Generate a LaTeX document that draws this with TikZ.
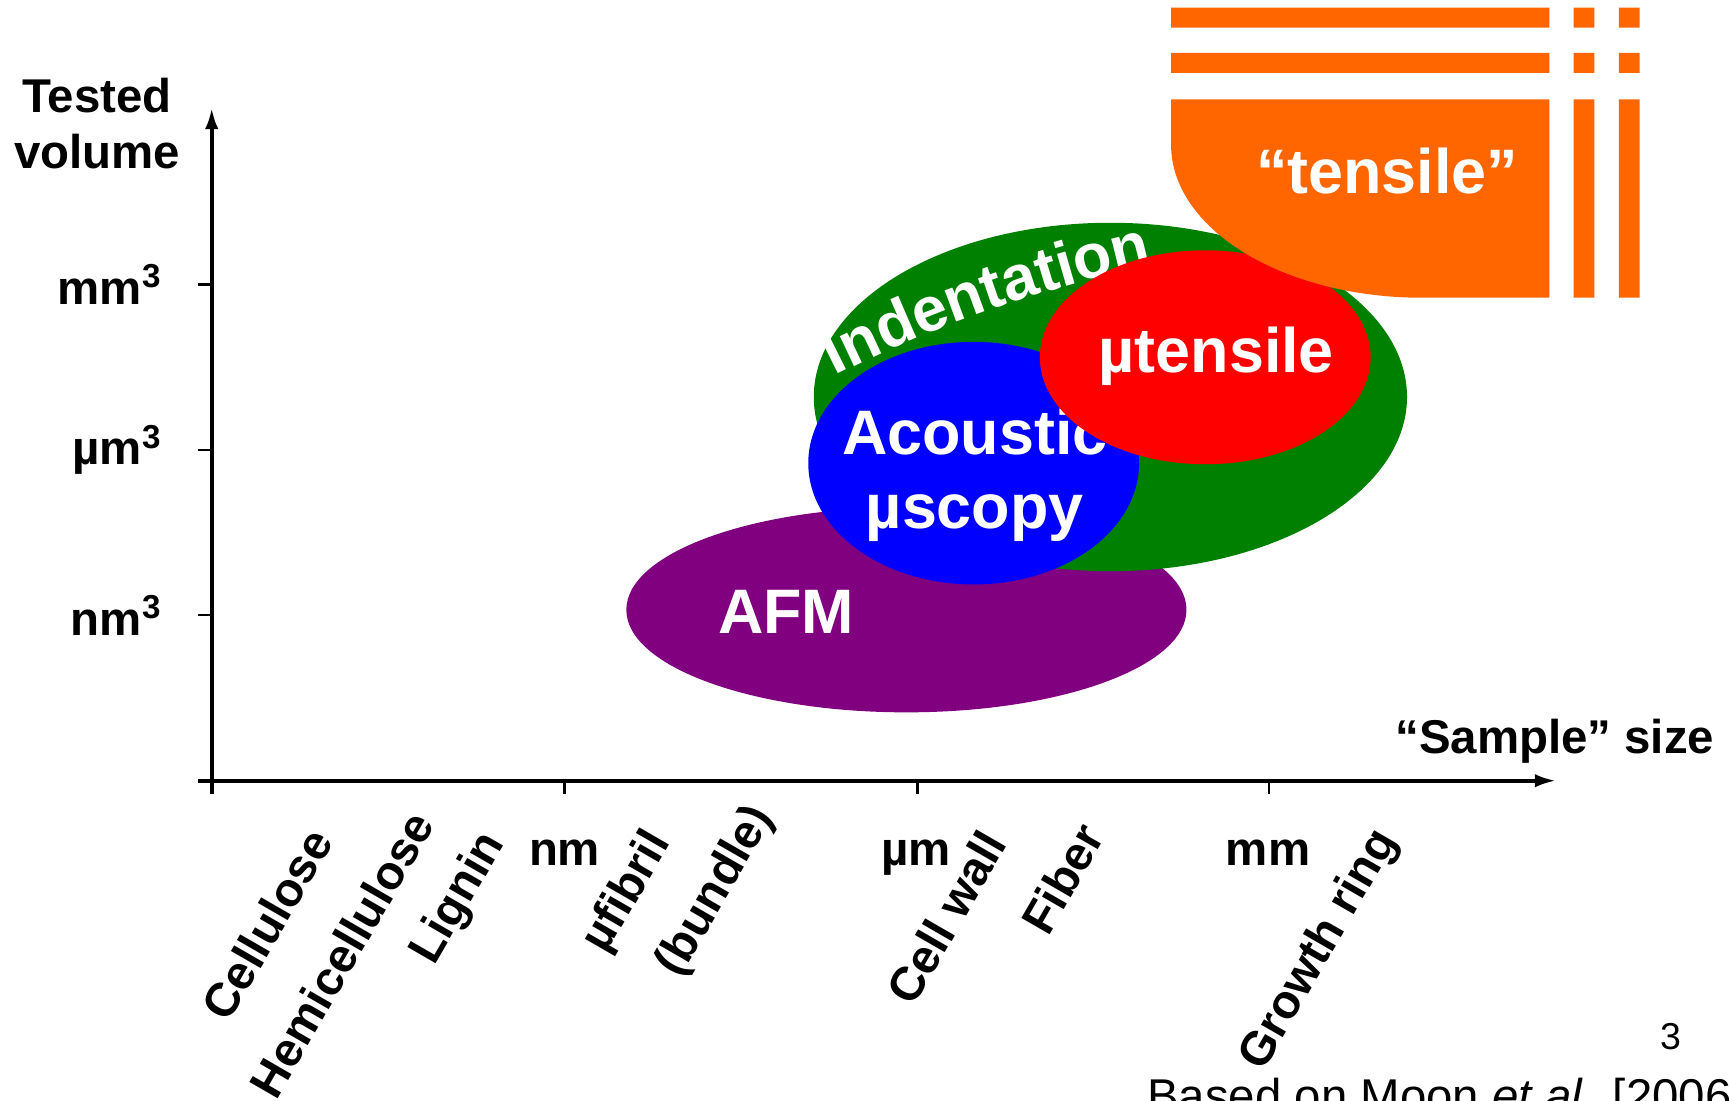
\documentclass[tikz,border=0pt]{standalone}
\usepackage{fontspec}
\setmainfont{Liberation Sans}
\usetikzlibrary{arrows.meta,decorations.text}
\definecolor{afmpurple}{HTML}{800080}
\definecolor{indgreen}{HTML}{008000}
\definecolor{acblue}{HTML}{0000FF}
\definecolor{utred}{HTML}{FF0000}
\definecolor{tensorange}{HTML}{FF6600}
\begin{document}
\begin{tikzpicture}[x=0.5pt,y=-0.5pt,
  axis/.style={line width=2pt},
  tick/.style={line width=1pt},
  lbl/.style={font=\fontsize{21.5}{25.5}\selectfont\bfseries,inner sep=0pt},
  blob/.style={font=\fontsize{28.5}{34}\selectfont\bfseries,text=white,inner sep=0pt,align=center},
  slant/.style={lbl,rotate=60,anchor=east}]
\useasboundingbox (0,0) rectangle (1568,998);

% method bubbles
\fill[afmpurple] (822,553) ellipse (254 and 93);
\node[blob] (afm) at (713,555) {AFM};
\fill[indgreen] (1007,360) ellipse (269 and 158);
\path[decorate,decoration={text along path,text align=left,text color=white,
  text={|\fontsize{28.5}{34}\selectfont\bfseries|Indentation}}]
  (757,341) .. controls (855,291) and (967,255) .. (1075,232);
\fill[acblue] (883,420) ellipse (150 and 110);
\node[blob] (acoustic) at (884,431) {Acoustic\\µscopy};
\fill[utred] (1093,324) ellipse (150 and 97);
\node[blob] (utensile) at (1103,323) {µtensile};

% "tensile" block
\fill[tensorange] (1062,7) rectangle (1405,25) (1427,7) rectangle (1446,25) (1468,7) rectangle (1487,25);
\fill[tensorange] (1062,48) rectangle (1405,66) (1427,48) rectangle (1446,66) (1468,48) rectangle (1487,66);
\fill[tensorange] (1062,90) -- (1405,90) -- (1405,270) -- (1290,270)
  .. controls (1164,270) and (1062,208) .. (1062,131) -- cycle;
\fill[tensorange] (1427,90) rectangle (1446,270) (1468,90) rectangle (1487,270);
\node[blob] (tensile) at (1258,155) {“tensile”};

% axes
\coordinate (org) at (192,708);
\coordinate (ybot) at (192,720);
\coordinate (ytop) at (192,97);
\coordinate (xbeg) at (180,708);
\coordinate (xend) at (1412,708);
\draw[axis,-{Latex[length=10pt,width=6pt]}] (ybot) -- (ytop);
\draw[axis,-{Latex[length=10pt,width=6pt]}] (xbeg) -- (xend);
\foreach \y/\name in {258/mm,408/um,558/nm}
  \draw[tick] (180,\y) coordinate (yt-\name) -- (192,\y);
\foreach \x/\name in {512/nm,832/um,1151/mm}
  \draw[tick] (\x,708) -- (\x,720) coordinate (xt-\name);

% axis labels
\node[lbl,align=center] (yname) at (88,112) {Tested\\volume};
\node[lbl,anchor=base east] (xname) at (1555,683) {“Sample” size};
\node[lbl,anchor=east] (ymm) at (147,258) {mm\textsuperscript{3}};
\node[lbl,anchor=east] (yum) at (147,408) {µm\textsuperscript{3}};
\node[lbl,anchor=east] (ynm) at (147,558) {nm\textsuperscript{3}};
\node[lbl,anchor=base] (xnm) at (512,785) {nm};
\node[lbl,anchor=base] (xum) at (831,785) {µm};
\node[lbl,anchor=base] (xmm) at (1150,785) {mm};

% structures
\node[slant] (cell) at (290,755) {Cellulose};
\node[slant] (hemi) at (382,740) {Hemicellulose};
\node[slant] (lig) at (449,759) {Lignin};
\node[slant] (fib) at (599,758) {µfibril};
\node[slant] (bund) at (692,735) {(bundle)};
\node[slant] (wall) at (901,757) {Cell wall};
\node[slant] (fiber) at (990,751) {Fiber};
\node[slant] (ring) at (1258,756) {Growth ring};

\node[font=\fontsize{17}{20}\selectfont,inner sep=0pt] (page) at (1515,940) {3};
\node[font=\fontsize{21.5}{25.5}\selectfont,inner sep=0pt,anchor=base west] (src) at (1040,1009) {Based on Moon \textit{et al.} [2006};
\end{tikzpicture}
\end{document}
